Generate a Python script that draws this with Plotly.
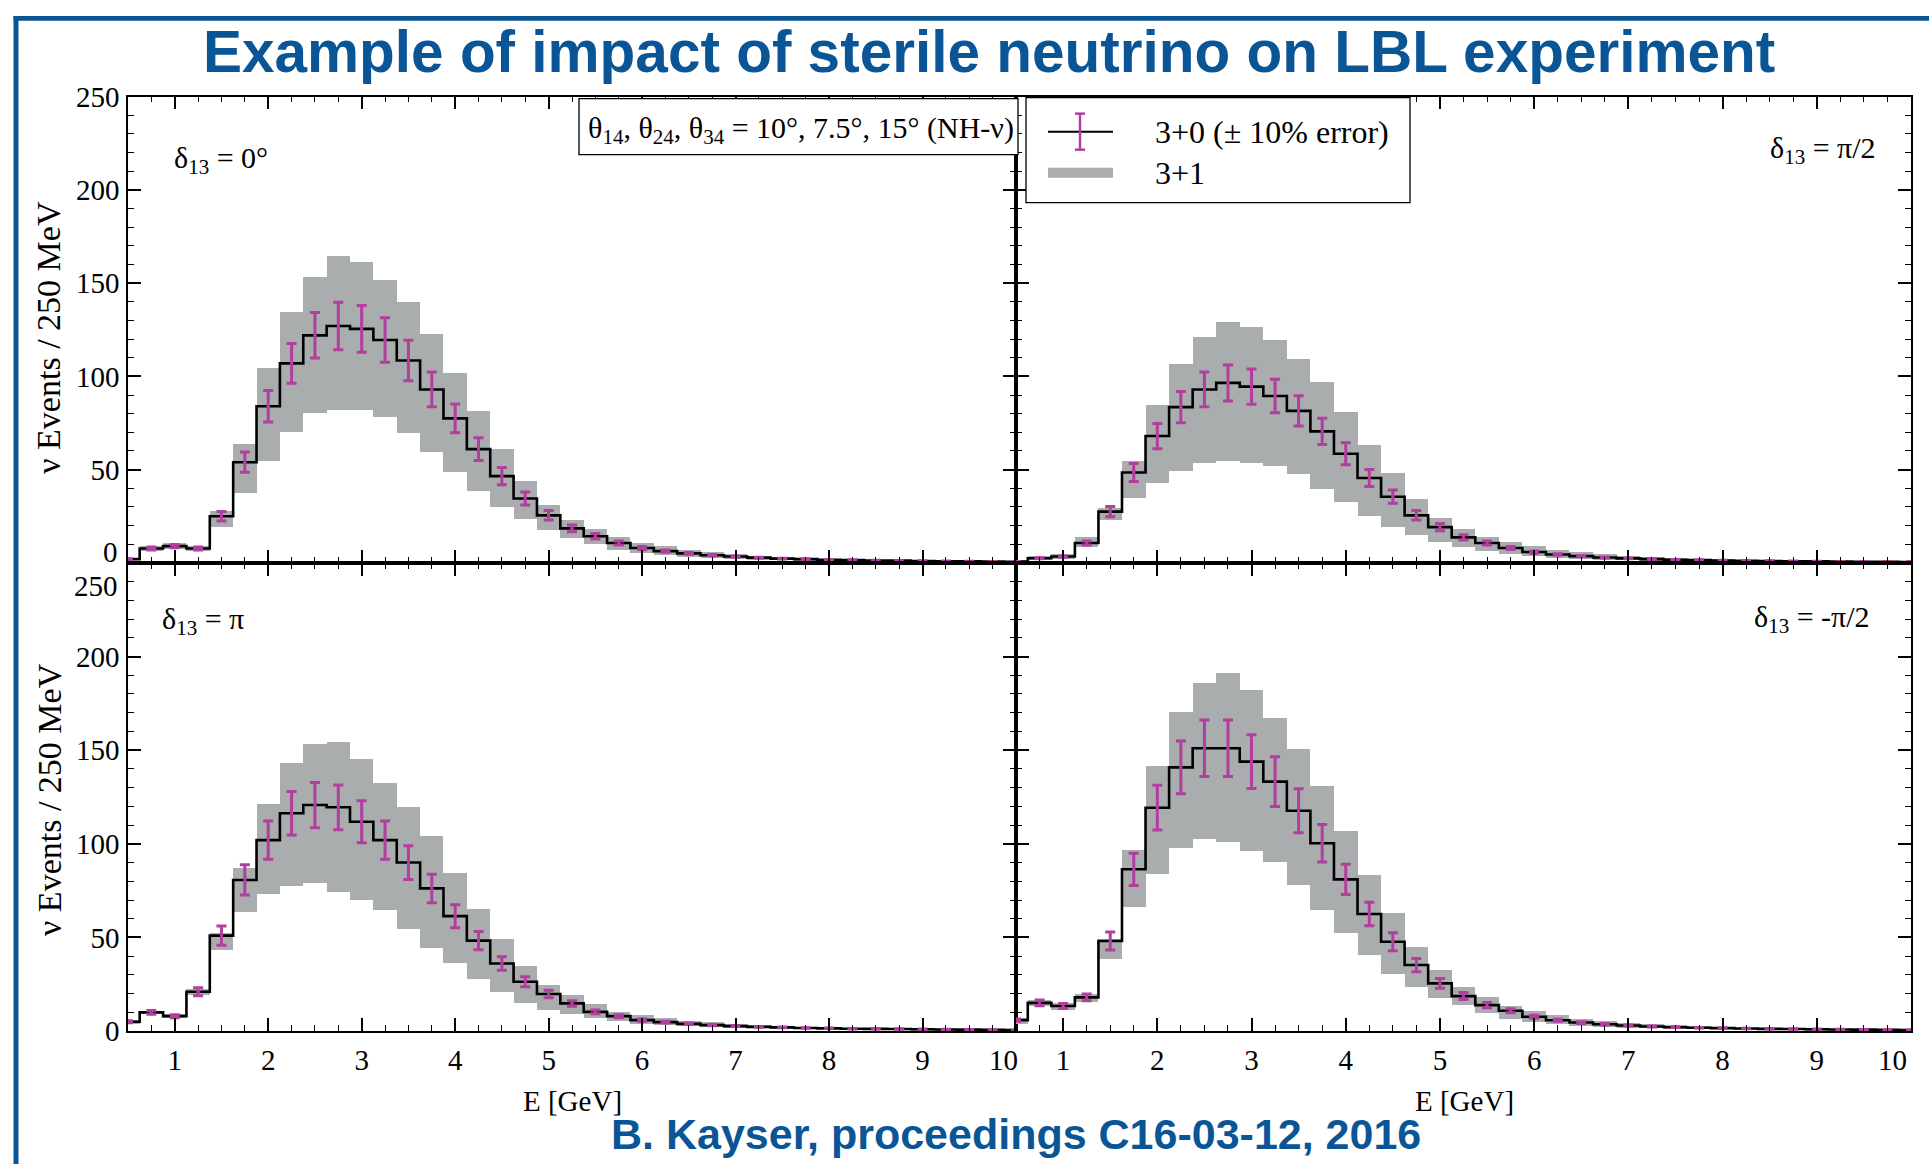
import plotly.graph_objects as go

# ---------------- data ----------------
energy = [0.5, 0.75, 1.0, 1.25, 1.5, 1.75, 2.0, 2.25, 2.5, 2.75, 3.0, 3.25, 3.5, 3.75,
          4.0, 4.25, 4.5, 4.75, 5.0, 5.25, 5.5, 5.75, 6.0, 6.25, 6.5, 6.75, 7.0, 7.25,
          7.5, 7.75, 8.0, 8.25, 8.5, 8.75, 9.0, 9.25, 9.5, 9.75, 10.0]

# delta13 = 0
nom_0 = [2, 7.7, 9.0, 7.7, 25, 54, 84, 107, 122, 127, 125.5, 119.5, 108.5, 93, 77.5, 61, 46.5,
         34.5, 25.5, 18.5, 14.3, 10.7, 8.0, 6.3, 5.1, 4.1, 3.4, 2.8, 2.3, 2.0, 1.7, 1.5, 1.3,
         1.2, 1.0, 0.9, 0.8, 0.7, 0.6]
up_0 = [3, 9.5, 10.8, 9.5, 28, 64, 104.5, 134.5, 153.5, 164.5, 161.5, 152, 140, 123, 102, 81.5,
        61.5, 44, 31.5, 23, 18.5, 14, 11, 9.0, 7.2, 5.8, 4.7, 3.9, 3.2, 2.7, 2.3, 2.0, 1.8, 1.6,
        1.4, 1.2, 1.1, 1.0, 0.9]
low_0 = [1.5, 6.3, 7.5, 6.3, 19.5, 37.5, 55, 70.5, 80.5, 82, 82, 78.5, 70, 59.5, 49, 39, 30, 23.5,
         18, 13.5, 10.2, 7.1, 5.5, 4.3, 3.4, 2.8, 2.3, 1.9, 1.6, 1.4, 1.2, 1.0, 0.9, 0.8, 0.7, 0.6,
         0.5, 0.5, 0.4]

# delta13 = pi/2
nom_pi2 = [0.7, 2.5, 3.4, 10.7, 27.5, 48.5, 68, 83.5, 93, 96.5, 94.5, 89.5, 81.5, 70.5, 58.5, 45.5,
           35.5, 25.5, 19.2, 13.7, 10.7, 8.0, 5.8, 4.5, 3.6, 2.9, 2.4, 2.0, 1.7, 1.5, 1.3, 1.1, 1.0,
           0.9, 0.8, 0.7, 0.6, 0.6, 0.5]
up_pi2 = [1.5, 4.0, 5.0, 13.9, 29.6, 54.6, 85, 107, 121.3, 129.6, 126.7, 119.7, 109.5, 97, 81, 63.6,
          48.6, 34.5, 24.2, 18.3, 14.3, 11.6, 9.0, 7.0, 5.8, 4.8, 4.0, 3.3, 2.8, 2.4, 2.1, 1.8, 1.6,
          1.4, 1.2, 1.1, 1.0, 0.9, 0.8]
low_pi2 = [0.0, 1.5, 2.2, 8.9, 23.3, 35.1, 43.2, 49.5, 54, 54.6, 54, 52.2, 47.7, 40, 32.9, 25.1, 19.2,
           15.2, 11.6, 8.9, 6.7, 5.2, 3.8, 2.9, 2.4, 2.0, 1.6, 1.3, 1.1, 1.0, 0.9, 0.8, 0.7, 0.6,
           0.5, 0.5, 0.4, 0.4, 0.3]

# delta13 = pi
nom_pi = [5, 10, 8, 21, 51, 80.7, 102, 116.3, 120.7, 119.5, 111.8, 102, 90, 76.2, 61.4, 48.3, 36.1,
          26.4, 19.8, 14.8, 10.3, 8.0, 5.9, 4.8, 3.9, 3.2, 2.7, 2.3, 2.0, 1.7, 1.5, 1.3, 1.2, 1.1,
          1.0, 0.9, 0.8, 0.7, 0.6]
up_pi = [6, 11, 9, 22.3, 52.2, 86.9, 121.3, 143, 153.1, 154.2, 145.3, 132.7, 119.8, 104.2, 84.6,
         65.5, 49, 34.9, 24.6, 19.2, 14.4, 10.3, 8.5, 7.0, 5.7, 4.7, 3.9, 3.3, 2.8, 2.4, 2.1, 1.8,
         1.6, 1.4, 1.3, 1.2, 1.1, 1.0, 0.9]
low_pi = [4, 9, 7, 19.2, 43.6, 63.7, 73.5, 77.5, 78.9, 74.4, 70.3, 65, 54.8, 44.7, 36.5, 28.1, 21,
          15.1, 11.6, 9.1, 7.1, 5.5, 4.0, 3.3, 2.7, 2.2, 1.8, 1.5, 1.3, 1.1, 1.0, 0.9, 0.8, 0.7,
          0.6, 0.6, 0.5, 0.5, 0.4]

# delta13 = -pi/2
nom_mpi2 = [5.9, 15.1, 13.4, 18, 48.1, 86.4, 119.3, 140.8, 151, 151, 143.9, 133.2, 117.7, 100.3, 81,
            62.5, 47.7, 35.3, 25.5, 18.7, 13.9, 10.9, 7.7, 5.8, 4.6, 3.7, 3.0, 2.5, 2.1, 1.8, 1.6,
            1.4, 1.2, 1.1, 1.0, 0.9, 0.8, 0.7, 0.6]
up_mpi2 = [7, 16.5, 15, 19.8, 49.5, 96.7, 141.6, 170.2, 185.7, 191.1, 182.2, 167, 150.6, 131.1, 107,
           83.3, 62.9, 45, 32.9, 23.7, 18.3, 13.4, 11, 8.5, 6.8, 5.5, 4.5, 3.7, 3.1, 2.7, 2.3, 2.0,
           1.8, 1.6, 1.4, 1.3, 1.2, 1.1, 1.0]
low_mpi2 = [4, 13.5, 11.5, 15.7, 38.8, 66.4, 84.2, 97.6, 102.4, 101.1, 96.3, 90.5, 78, 64.6, 52.2,
            40.6, 30.8, 23.7, 17.5, 13.9, 9.8, 6.8, 5.0, 3.8, 3.0, 2.4, 2.0, 1.6, 1.4, 1.2, 1.0, 0.9,
            0.8, 0.7, 0.6, 0.6, 0.5, 0.5, 0.4]

x_ticks = [1, 2, 3, 4, 5, 6, 7, 8, 9, 10]
y_ticks = [0, 50, 100, 150, 200, 250]
panel_labels = ["δ<sub>13</sub> = 0°", "δ<sub>13</sub> = π/2", "δ<sub>13</sub> = π", "δ<sub>13</sub> = -π/2"]
legend_labels = ["3+0 (± 10% error)", "3+1"]
box_text = "θ<sub>14</sub>, θ<sub>24</sub>, θ<sub>34</sub> = 10°, 7.5°, 15° (NH-ν)"
title_text = "Example of impact of sterile neutrino on LBL experiment"
footer_text = "B. Kayser, proceedings C16-03-12, 2016"
y_title = "ν Events / 250 MeV"
x_title = "E [GeV]"

# ---------------- style ----------------
W, H = 1929, 1164
BLUE = "#0A5596"
GRAY = "rgb(169,173,173)"
MAGENTA = "rgb(178,62,158)"
SERIF = "Liberation Serif"
SANS = "Liberation Sans"

# the photographed page comes out slightly rescaled vertically; place items so they land on target pixels
SX, OX = 1.0, 0.0
SY, OY = 0.972, 16.4


def X(x):
    """target screen x (px) -> paper fraction"""
    return ((x - OX) / SX) / W


def Y(y):
    """target screen y (px, from top) -> paper fraction"""
    return 1 - ((y - OY) / SY) / H


panels = [
    (nom_0, up_0, low_0, "x", "y"),
    (nom_pi2, up_pi2, low_pi2, "x2", "y2"),
    (nom_pi, up_pi, low_pi, "x3", "y3"),
    (nom_mpi2, up_mpi2, low_mpi2, "x4", "y4"),
]

fig = go.Figure()
for nom, up, low, xa, ya in panels:
    fig.add_trace(go.Bar(
        x=energy, y=[u - l for u, l in zip(up, low)], base=low, width=0.25,
        marker=dict(color=GRAY, line=dict(width=0)), xaxis=xa, yaxis=ya,
        showlegend=False, hoverinfo="skip"))
    fig.add_trace(go.Scatter(
        x=energy, y=nom, mode="lines", line=dict(color="black", width=2.6, shape="hvh"),
        xaxis=xa, yaxis=ya, showlegend=False))
    fig.add_trace(go.Scatter(
        x=energy, y=nom, mode="markers", marker=dict(color=MAGENTA, size=3),
        error_y=dict(type="percent", value=10, color=MAGENTA, thickness=3, width=5),
        xaxis=xa, yaxis=ya, showlegend=False))

# panel target pixel geometry
xl = (128, 1016)
xr = (1016, 1911)
yt = (97, 563)
yb = (563, 1031)

tickfont = dict(family=SERIF, size=29, color="black")


def xaxis(dom, anchor, labels, vals):
    return dict(domain=[X(dom[0]), min(1.0, X(dom[1]))], anchor=anchor, range=[0.5, 10],
                tickmode="array", tickvals=vals, ticks="inside", ticklen=13, tickwidth=1.6,
                tickcolor="black", showline=True, linecolor="black", linewidth=1.6,
                mirror="allticks", showgrid=False, zeroline=False, showticklabels=labels,
                tickfont=tickfont, ticklabelstandoff=2,
                minor=dict(dtick=0.25, tick0=0, ticks="inside", ticklen=6, tickwidth=1.1,
                           tickcolor="black", showgrid=False))


def yaxis(dom, anchor, labels, vals):
    return dict(domain=[Y(dom[1]), Y(dom[0])], anchor=anchor, range=[0, 250],
                tickmode="array", tickvals=vals, ticks="inside", ticklen=13, tickwidth=1.6,
                tickcolor="black", showline=True, linecolor="black", linewidth=1.6,
                mirror="allticks", showgrid=False, zeroline=False, showticklabels=labels,
                tickfont=tickfont, ticklabelstandoff=1,
                minor=dict(dtick=10, tick0=0, ticks="inside", ticklen=6, tickwidth=1.1,
                           tickcolor="black", showgrid=False))


x_inner = x_ticks[:-1]          # end label "10" drawn as a note (kept clear of the edge)
y_top_vals = y_ticks[1:]        # "0" of the upper panels drawn as a note (raised)
y_bot_vals = y_ticks[:-1]       # "250" of the lower panels drawn as a note (lowered)

fig.update_layout(
    width=W, height=H, margin=dict(l=0, r=0, t=0, b=0),
    paper_bgcolor="white", plot_bgcolor="white", bargap=0, barmode="overlay",
    showlegend=False,
    xaxis=xaxis(xl, "y", False, x_inner), yaxis=yaxis(yt, "x", True, y_top_vals),
    xaxis2=xaxis(xr, "y2", False, x_inner), yaxis2=yaxis(yt, "x2", False, y_top_vals),
    xaxis3=xaxis(xl, "y3", True, x_inner), yaxis3=yaxis(yb, "x3", True, y_bot_vals),
    xaxis4=xaxis(xr, "y4", True, x_inner), yaxis4=yaxis(yb, "x4", False, y_bot_vals),
)


def note(text, x, y, xanchor="center", font=None, **kw):
    return dict(text=text, xref="paper", yref="paper", x=X(x), y=Y(y), xanchor=xanchor,
                yanchor="middle", showarrow=False, font=font, **kw)


ann = []
# boundary tick labels shifted to avoid overlap
ann.append(note(str(y_ticks[0]), 120, 552, "right", tickfont))
ann.append(note(str(y_ticks[-1]), 120, 586, "right", tickfont))
ann.append(note(str(x_ticks[-1]), 1004, 1060, "center", tickfont))
ann.append(note(str(x_ticks[-1]), 1909, 1060, "right", tickfont))

# title / footer
ann.append(note("<b>" + title_text + "</b>", 989, 52, "center",
                dict(family=SANS, size=58.5, color=BLUE)))
ann.append(note("<b>" + footer_text + "</b>", 1016, 1134, "center",
                dict(family=SANS, size=43, color=BLUE)))

# axis titles
for yc in (338, 800):
    ann.append(note(y_title, 49, yc, "center", dict(family=SERIF, size=34, color="black"),
                    textangle=-90))
for xc in (572, 1464):
    ann.append(note(x_title, xc, 1101, "center", dict(family=SERIF, size=29, color="black")))

# panel labels
lab_font = dict(family=SERIF, size=30, color="black")
ann.append(note(panel_labels[0], 172, 160, "left", lab_font))
ann.append(note(panel_labels[1], 1878, 150, "right", lab_font))
ann.append(note(panel_labels[2], 160, 621, "left", lab_font))
ann.append(note(panel_labels[3], 1872, 619, "right", lab_font))

# parameter box text and legend text
box_font = dict(family=SERIF, size=30, color="black")
leg_font = dict(family=SERIF, size=32, color="black")
ann.append(note(box_text, 801, 130, "center", box_font))
ann.append(note(legend_labels[0], 1153, 132, "left", leg_font))
ann.append(note(legend_labels[1], 1153, 173, "left", leg_font))


def rect(x0, x1, y0, y1, **kw):
    return dict(type="rect", xref="paper", yref="paper", x0=X(x0), x1=min(1.0, X(x1)),
                y0=min(1.0, Y(y1)), y1=min(1.0, Y(y0)), **kw)


def seg(x0, x1, y0, y1, color, width):
    return dict(type="line", xref="paper", yref="paper", x0=X(x0), x1=X(x1), y0=Y(y0),
                y1=Y(y1), line=dict(color=color, width=width))


shapes = []
# blue frame
shapes.append(rect(13.5, 18.5, 14, 1200, fillcolor=BLUE, line=dict(width=0)))
shapes.append(dict(type="rect", xref="paper", yref="paper", x0=X(13.5), x1=1, y0=1 - 5 / H, y1=1,
                   fillcolor=BLUE, line=dict(width=0)))
# parameter box
shapes.append(rect(579, 1018, 99, 155, fillcolor="white", line=dict(color="black", width=1.3)))
# legend box
shapes.append(rect(1026, 1410, 98, 203, fillcolor="white", line=dict(color="black", width=1.3)))
# legend samples
shapes.append(seg(1048, 1113, 132, 132, "black", 2))
shapes.append(seg(1080, 1080, 114, 150, MAGENTA, 2.5))
shapes.append(seg(1075, 1085, 114, 114, MAGENTA, 2.5))
shapes.append(seg(1075, 1085, 150, 150, MAGENTA, 2.5))
shapes.append(seg(1048, 1113, 173, 173, GRAY, 10))

fig.update_layout(annotations=ann, shapes=shapes)

page_fix = ("document.documentElement.style.margin='0';document.body.style.margin='0';"
            "document.body.style.overflow='hidden';"
            "var gd=document.getElementById('{plot_id}');"
            "gd.style.position='absolute';gd.style.left='0px';gd.style.top='0px';")
fig.write_html("out.html", post_script=page_fix, config={"displayModeBar": False})
